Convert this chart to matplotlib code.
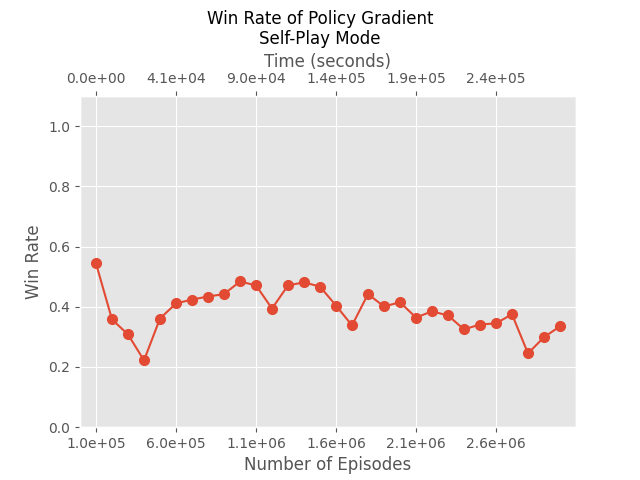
import matplotlib as mpl
mpl.use('Agg')
import matplotlib.pyplot as plt
import numpy as np

plt.style.use('ggplot')

win_rate = [0.544, 0.358, 0.308, 0.222, 0.361, 0.411, 0.424, 0.434, 0.442, 0.484,
            0.471, 0.394, 0.471, 0.481, 0.467, 0.404, 0.338, 0.442, 0.401, 0.415,
            0.364, 0.385, 0.371, 0.325, 0.341, 0.345, 0.375, 0.245, 0.299, 0.335]
episode_labels = ["1.0e+05", "6.0e+05", "1.1e+06", "1.6e+06", "2.1e+06", "2.6e+06"]
time_labels = ["0.0e+00", "4.1e+04", "9.0e+04", "1.4e+05", "1.9e+05", "2.4e+05"]

x = np.arange(len(win_rate))
tick_pos = x[::5]

fig, ax = plt.subplots(figsize=(6.4, 4.8), dpi=100)
fig.subplots_adjust(top=0.8)
fig.suptitle("Win Rate of Policy Gradient\nSelf-Play Mode", fontsize=12)

ax.plot(x, win_rate, marker='o', markersize=7)
ax.set_xlim(-1, 30)
ax.set_ylim(0, 1.1)
ax.set_xticks(tick_pos)
ax.set_xticklabels(episode_labels)
ax.set_xlabel("Number of Episodes")
ax.set_ylabel("Win Rate")

ax2 = ax.twiny()
ax2.set_xlim(ax.get_xlim())
ax2.set_xticks(tick_pos)
ax2.set_xticklabels(time_labels)
ax2.set_xlabel("Time (seconds)")
ax2.grid(False)

plt.savefig("out.png")
